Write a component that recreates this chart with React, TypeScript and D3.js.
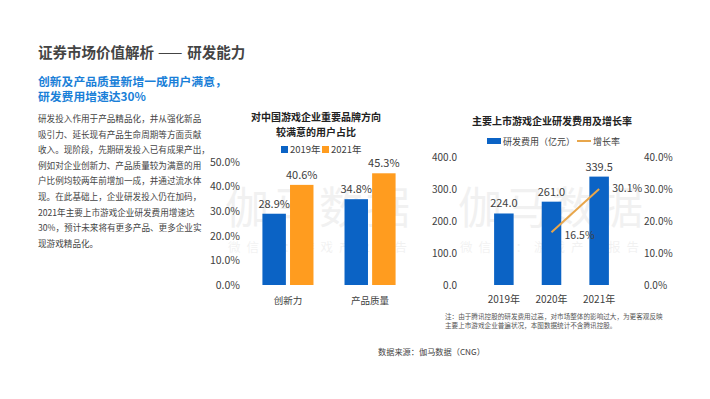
import React from "react";
import * as d3 from "d3";

const W = 710;
const H = 399;

const BLUE = "#0b63c5";
const ORANGE = "#ff9c1f";
const LINE = "#e8a64b";
const TXT = "#404040";
const FONT = "'Noto Sans CJK SC', 'Noto Sans', sans-serif";

// left chart: satisfaction share
const satCategories = ["创新力", "产品质量"];
const satYears = ["2019年", "2021年"];
const sat2019 = [28.9, 34.8];
const sat2021 = [40.6, 45.3];
const satTicks = [0, 10, 20, 30, 40, 50];

// right chart: R&D spend and growth
const rdYears = ["2019年", "2020年", "2021年"];
const rdSpend = [224.0, 261.0, 339.5];
const rdGrowth = [null, 16.5, 30.1];
const rdTicksLeft = [0, 100, 200, 300, 400];
const rdTicksRight = [0, 10, 20, 30, 40];

const bodyLines = [
  "研发投入作用于产品精品化，并从强化新品",
  "吸引力、延长现有产品生命周期等方面贡献",
  "收入。现阶段，先期研发投入已有成果产出，",
  "例如对企业创新力、产品质量较为满意的用",
  "户比例均较两年前增加一成，并通过流水体",
  "现。在此基础上，企业研发投入仍在加码，",
  "2021年主要上市游戏企业研发费用增速达",
  "30%，预计未来将有更多产品、更多企业实",
  "现游戏精品化。",
];

const LeftChart = () => {
  const y = d3.scaleLinear().domain([0, 50]).range([285, 161.7]);
  const x0 = d3
    .scaleBand()
    .domain(satCategories)
    .range([246, 412])
    .paddingInner(0.378)
    .paddingOuter(0.2);
  const x1 = d3
    .scaleBand()
    .domain(satYears)
    .range([0, x0.bandwidth()])
    .paddingInner(0.15);
  const series = [sat2019, sat2021];
  const colors = [BLUE, ORANGE];

  return (
    <g fontFamily={FONT}>
      <text x={316} y={121} textAnchor="middle" fontSize={10} fontWeight="bold" fill="#222">
        对中国游戏企业重要品牌方向
      </text>
      <text x={316} y={136} textAnchor="middle" fontSize={10} fontWeight="bold" fill="#222">
        较满意的用户占比
      </text>
      {satYears.map((s, i) => (
        <g key={s} transform={`translate(${281 + i * 41},${145})`}>
          <rect width={7} height={7} y={1} fill={colors[i]} />
          <text x={9} y={8} fontSize={9.5} fill={TXT}>
            {s}
          </text>
        </g>
      ))}
      {satTicks.map((t) => (
        <text key={t} x={240} y={y(t) + 4} textAnchor="end" fontSize={10.5} fill={TXT}>
          {d3.format(".1f")(t)}%
        </text>
      ))}
      {satCategories.map((c, ci) => (
        <g key={c} transform={`translate(${x0(c)},0)`}>
          {series.map((vals, si) => (
            <g key={si}>
              <rect
                x={x1(satYears[si])}
                y={y(vals[ci])}
                width={x1.bandwidth()}
                height={y(0) - y(vals[ci])}
                fill={colors[si]}
              />
              <text
                x={(x1(satYears[si]) || 0) + x1.bandwidth() / 2}
                y={y(vals[ci]) - 6}
                textAnchor="middle"
                fontSize={11}
                fill={TXT}
              >
                {vals[ci].toFixed(1)}%
              </text>
            </g>
          ))}
          <text x={x0.bandwidth() / 2} y={304} textAnchor="middle" fontSize={9.5} fill={TXT}>
            {c}
          </text>
        </g>
      ))}
    </g>
  );
};

const RightChart = () => {
  const yL = d3.scaleLinear().domain([0, 400]).range([285, 157.3]);
  const yR = d3.scaleLinear().domain([0, 40]).range([285, 157.3]);
  const x = d3.scaleBand().domain(rdYears).range([466, 637]).padding(0.59);
  const cx = (d: string) => (x(d) || 0) + x.bandwidth() / 2;
  const pts = rdYears
    .map((d, i) => ({ d, v: rdGrowth[i] }))
    .filter((p) => p.v !== null) as { d: string; v: number }[];
  const line = d3
    .line<{ d: string; v: number }>()
    .x((p) => cx(p.d))
    .y((p) => yR(p.v));

  return (
    <g fontFamily={FONT}>
      <text x={552} y={125} textAnchor="middle" fontSize={10} fontWeight="bold" fill="#222">
        主要上市游戏企业研发费用及增长率
      </text>
      <rect x={487} y={138} width={14} height={6} fill={BLUE} />
      <text x={503} y={145} fontSize={9} fill={TXT}>
        研发费用（亿元）
      </text>
      <line x1={577} x2={591} y1={141} y2={141} stroke={LINE} strokeWidth={2} />
      <text x={593} y={145} fontSize={9} fill={TXT}>
        增长率
      </text>
      {rdTicksLeft.map((t) => (
        <text key={t} x={457} y={yL(t) + 4} textAnchor="end" fontSize={10} fill={TXT}>
          {t.toFixed(1)}
        </text>
      ))}
      {rdTicksRight.map((t) => (
        <text key={t} x={644} y={yR(t) + 4} fontSize={10} fill={TXT}>
          {t.toFixed(1)}%
        </text>
      ))}
      {rdYears.map((d, i) => (
        <g key={d}>
          <rect
            x={x(d)}
            y={yL(rdSpend[i])}
            width={x.bandwidth()}
            height={yL(0) - yL(rdSpend[i])}
            fill={BLUE}
          />
          <text x={cx(d)} y={yL(rdSpend[i]) - 6} textAnchor="middle" fontSize={11} fill={TXT}>
            {rdSpend[i].toFixed(1)}
          </text>
          <text x={cx(d)} y={303} textAnchor="middle" fontSize={10} fill={TXT}>
            {d}
          </text>
        </g>
      ))}
      <path d={line(pts) || ""} fill="none" stroke={LINE} strokeWidth={2} />
      {pts.map((p) => (
        <text
          key={p.d}
          x={cx(p.d) + 13}
          y={yR(p.v) + (p.d === "2020年" ? 7 : 3)}
          fontSize={10.5}
          fill={TXT}
        >
          {p.v.toFixed(1)}%
        </text>
      ))}
      <text x={445} y={319} fontSize={6.6} fill="#555">
        注：由于腾讯控股的研发费用过高，对市场整体的影响过大，为更客观反映
      </text>
      <text x={445} y={328} fontSize={6.6} fill="#555">
        主要上市游戏企业普遍状况，本图数据统计不含腾讯控股。
      </text>
    </g>
  );
};

export default function App() {
  return (
    <svg
      width={W}
      height={H}
      style={{ display: "block", position: "absolute", left: 0, top: 0, background: "#fff" }}
    >
      <rect width={W} height={H} fill="#fff" />
      <g fontFamily={FONT} fill="#000" opacity={0.05}>
        <text x={225} y={224} fontSize={44} letterSpacing={3}>
          伽马数据
        </text>
        <text x={458} y={224} fontSize={44} letterSpacing={3}>
          伽马数据
        </text>
        <text x={228} y={252} fontSize={12.5} letterSpacing={6}>
          微信号：游戏产业报告
        </text>
        <text x={460} y={252} fontSize={12.5} letterSpacing={6}>
          微信号：游戏产业报告
        </text>
      </g>
      <g fontFamily={FONT}>
        <text x={38} y={58} fontSize={14.5} fontWeight="bold" fill="#444">
          证券市场价值解析
          <tspan fontWeight="normal" dx={4} letterSpacing={3}>
            ——
          </tspan>
          <tspan dx={2}>研发能力</tspan>
        </text>
        <text x={38} y={86} fontSize={11.8} fontWeight="bold" fill="#1a7fd8">
          创新及产品质量新增一成用户满意，
        </text>
        <text x={38} y={101} fontSize={11.8} fontWeight="bold" fill="#1a7fd8">
          研发费用增速达30%
        </text>
        {bodyLines.map((l, i) => (
          <text key={i} x={38} y={122 + i * 15.6} fontSize={8.6} fill="#444">
            {l}
          </text>
        ))}
        <text x={378} y={355} fontSize={8.2} fill="#444">
          数据来源：伽马数据（CNG）
        </text>
      </g>
      <LeftChart />
      <RightChart />
    </svg>
  );
}
